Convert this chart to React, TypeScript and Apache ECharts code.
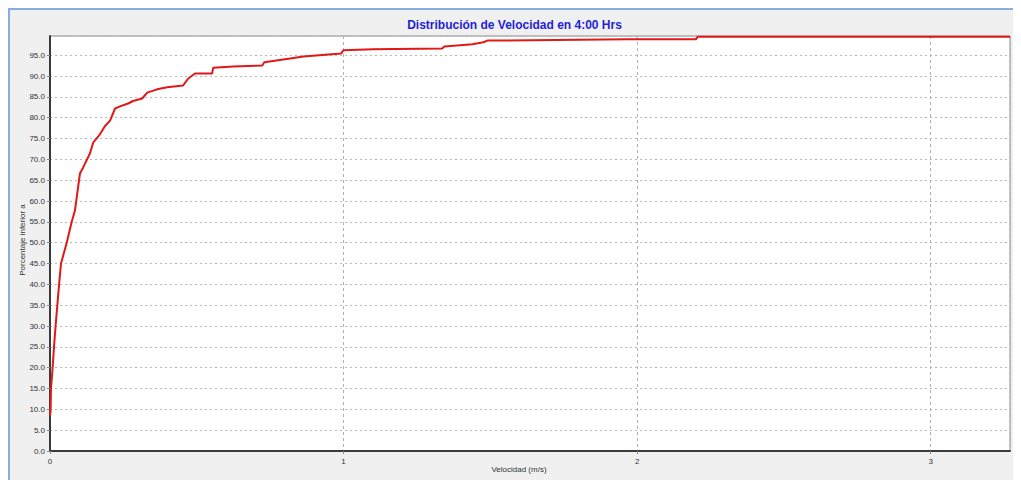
import React, { useEffect, useRef } from "react";
import * as echarts from "echarts";

const velocidad = [
  0.0, 0.002, 0.0034, 0.009, 0.0136, 0.019, 0.025, 0.031, 0.0375, 0.057, 0.074, 0.085,
  0.102, 0.1125, 0.136, 0.147, 0.17, 0.1875, 0.2046, 0.2216, 0.2387, 0.266, 0.283,
  0.314, 0.331, 0.365, 0.399, 0.453, 0.471, 0.494, 0.552, 0.556, 0.624, 0.723, 0.73,
  0.818, 0.863, 0.992, 0.999, 1.101, 1.336, 1.343, 1.439, 1.476, 1.49, 1.967, 2.2,
  2.206, 3.27,
];
const porcentaje = [
  8.5, 9.6, 15, 20, 25, 30, 35, 40, 45, 50, 55, 57.7,
  66.6, 68, 71.4, 74, 76, 78, 79.3, 82.2, 82.7, 83.4, 84,
  84.6, 86, 86.8, 87.3, 87.7, 89.4, 90.6, 90.6, 92, 92.3, 92.5, 93.3,
  94.2, 94.7, 95.4, 96.2, 96.4, 96.6, 97.1, 97.6, 98.1, 98.5, 98.8, 98.8,
  99.4, 99.4,
];

const titulo = "Distribución de Velocidad en 4:00 Hrs";
const ejeX = "Velocidad (m/s)";
const ejeY = "Porcentaje inferior a";

export default function App() {
  const ref = useRef<HTMLDivElement>(null);
  useEffect(() => {
    if (!ref.current) return;
    const chart = echarts.init(ref.current, undefined, { renderer: "svg" });
    const data = velocidad.map((v, i) => [v, porcentaje[i]]);
    const font = "Arial, Liberation Sans, sans-serif";
    chart.setOption({
      animation: false,
      backgroundColor: "transparent",
      textStyle: { fontFamily: font },
      title: {
        text: titulo,
        left: "center",
        top: 6,
        textStyle: { fontSize: 12, fontWeight: "bold", color: "#1f1fd6", fontFamily: font },
      },
      grid: {
        left: 42,
        top: 28,
        right: 11,
        bottom: 29,
        containLabel: false,
        outerBoundsMode: "none",
        show: true,
        backgroundColor: "#ffffff",
        borderColor: "#8a8a8a",
        borderWidth: 1,
      },
      graphic: [
        {
          type: "text",
          x: 511,
          y: 461,
          style: { text: ejeX, fontSize: 8, fill: "#333", textAlign: "center", textVerticalAlign: "middle", fontFamily: font },
        },
        {
          type: "text",
          x: 14,
          y: 232,
          rotation: Math.PI / 2,
          style: { text: ejeY, fontSize: 8, fill: "#333", textAlign: "center", textVerticalAlign: "middle", fontFamily: font },
        },
      ],
      xAxis: {
        type: "value",
        min: 0,
        max: 3.27,
        interval: 1,
        axisLine: { show: true, onZero: false, lineStyle: { color: "#3a3a3a", width: 2 } },
        axisTick: { show: true, length: 3, lineStyle: { color: "#888" } },
        axisLabel: { fontSize: 8, color: "#333", margin: 6, showMaxLabel: false },
        splitLine: { show: true, lineStyle: { color: "#b0b0b0", type: [3, 3], width: 1 } },
      },
      yAxis: {
        type: "value",
        min: 0,
        max: 99.6,
        interval: 5,
        axisLine: { show: true, onZero: false, lineStyle: { color: "#3a3a3a", width: 2 } },
        axisTick: { show: true, length: 3, lineStyle: { color: "#888" } },
        axisLabel: {
          fontSize: 8,
          color: "#333",
          margin: 5,
          showMaxLabel: false,
          formatter: (v: number) => v.toFixed(1),
        },
        splitLine: { show: true, lineStyle: { color: "#b8b8b8", type: [2, 3], width: 1 } },
      },
      series: [
        {
          type: "line",
          data,
          showSymbol: false,
          symbol: "none",
          lineStyle: { color: "#e01818", width: 2 },
          clip: true,
        },
      ],
    });
    return () => chart.dispose();
  }, []);
  return (
    <div
      style={{
        width: 1013,
        height: 472,
        boxSizing: "border-box",
        borderTop: "2px solid #86aee0",
        borderLeft: "2px solid #86aee0",
        background: "#f0f0f0",
        position: "relative",
      }}
    >
      <div ref={ref} style={{ position: "absolute", left: -2, top: -2, width: 1013, height: 472 }} />
    </div>
  );
}
